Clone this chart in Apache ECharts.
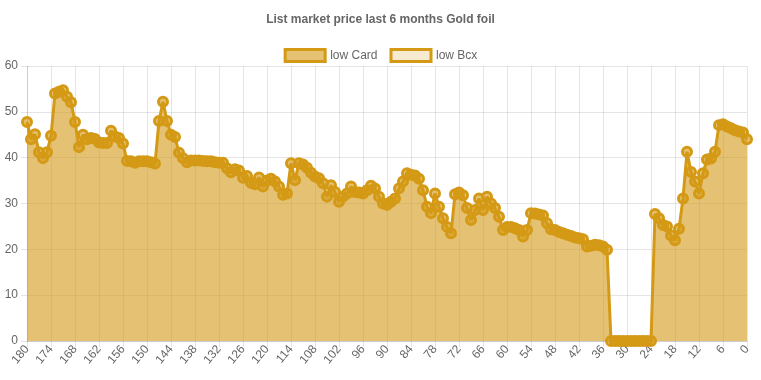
<!DOCTYPE html>
<html>
<head>
<meta charset="utf-8">
<script src="https://cdn.jsdelivr.net/npm/echarts@6/dist/echarts.min.js"></script>
<style>
html,body{margin:0;padding:0;background:#fff;}
#chart{width:761px;height:380px;}
</style>
</head>
<body>
<div id="chart"></div>
<script>
const chartTitle = 'List market price last 6 months Gold foil';
const seriesNames = ['low Card', 'low Bcx'];
const dayLabels = Array.from({length: 181}, (_, k) => String(180 - k));
const lowCard = [
  47.8, 44.0, 45.1, 41.2, 39.9, 41.2, 44.8, 54.0, 54.4, 54.7,
  53.3, 52.1, 47.8, 42.3, 45.0, 44.0, 44.3, 44.1, 43.3, 43.2,
  43.2, 45.9, 44.6, 44.3, 43.1, 39.3, 39.2, 38.9, 39.2, 39.2,
  39.2, 39.0, 38.7, 48.0, 52.2, 48.0, 45.0, 44.5, 41.1, 39.9,
  39.0, 39.4, 39.4, 39.4, 39.3, 39.2, 39.2, 39.0, 38.9, 38.9,
  37.7, 36.8, 37.5, 37.2, 35.6, 36.0, 34.5, 34.2, 35.7, 33.7,
  35.0, 35.4, 34.8, 33.7, 31.9, 32.2, 38.8, 35.1, 38.8, 38.5,
  37.8, 36.7, 35.9, 35.5, 34.4, 31.5, 34.0, 32.5, 30.4, 31.5,
  32.2, 33.7, 32.5, 32.4, 32.2, 32.9, 33.9, 33.3, 31.5, 30.0,
  29.7, 30.4, 31.1, 33.3, 34.8, 36.6, 36.3, 36.1, 35.4, 32.9,
  29.3, 27.9, 32.2, 29.3, 26.8, 24.9, 23.5, 32.0, 32.4, 31.8,
  29.0, 26.4, 28.6, 31.1, 28.6, 31.5, 30.0, 29.0, 27.1, 24.2,
  24.9, 24.9, 24.6, 24.2, 22.8, 24.2, 27.9, 27.8, 27.6, 27.4,
  25.7, 24.4, 24.2, 23.8, 23.5, 23.2, 22.9, 22.6, 22.4, 22.2,
  20.6, 20.8, 21.0, 20.9, 20.6, 19.9, 0, 0, 0, 0,
  0, 0, 0, 0, 0, 0, 0, 27.7, 26.8, 25.3,
  25.0, 23.0, 22.0, 24.5, 31.1, 41.3, 36.9, 34.8, 32.2, 36.6,
  39.6, 39.8, 41.3, 47.1, 47.3, 46.8, 46.4, 46.0, 45.7, 45.5, 44.0
];
const lowBcx = [];
const yTicks = {min: 0, max: 60, step: 10};

const gold = 'rgb(212,153,21)';
const goldArea = 'rgba(212,153,21,0.6)';
const goldLight = 'rgba(212,153,21,0.2)';
const font = 'Liberation Sans, Arial, Helvetica, sans-serif';
const grey = '#666';
const gridCol = 'rgba(0,0,0,0.1)';

const chart = echarts.init(document.getElementById('chart'), null, {renderer: 'canvas'});
chart.setOption({
  animation: false,
  backgroundColor: '#fff',
  textStyle: {fontFamily: font},
  title: {
    text: chartTitle,
    left: 'center',
    top: 9,
    textStyle: {fontFamily: font, fontSize: 12, fontWeight: 'bold', color: grey}
  },
  legend: {
    top: 43,
    left: 'center',
    itemWidth: 40,
    itemHeight: 12,
    itemGap: 12,
    icon: 'rect',
    textStyle: {fontFamily: font, fontSize: 12, color: grey},
    data: [
      {name: seriesNames[0], itemStyle: {color: goldArea, borderColor: gold, borderWidth: 3, opacity: 1}},
      {name: seriesNames[1], itemStyle: {color: goldLight, borderColor: gold, borderWidth: 3, opacity: 1}}
    ]
  },
  grid: {left: 27, right: 14, top: 66, bottom: 39, containLabel: false},
  xAxis: {
    type: 'category',
    data: dayLabels,
    boundaryGap: false,
    axisLine: {show: true, lineStyle: {color: gridCol}},
    axisTick: {show: true, interval: 5, length: 6, lineStyle: {color: gridCol}},
    splitLine: {show: true, interval: 5, lineStyle: {color: gridCol}},
    axisLabel: {interval: 5, rotate: 50, color: grey, fontSize: 12, fontFamily: font, margin: 6}
  },
  yAxis: {
    type: 'value',
    min: yTicks.min,
    max: yTicks.max,
    interval: yTicks.step,
    axisLine: {show: true, lineStyle: {color: gridCol}},
    axisTick: {show: true, length: 6, lineStyle: {color: gridCol}},
    splitLine: {show: true, lineStyle: {color: gridCol}},
    axisLabel: {color: grey, fontSize: 12, fontFamily: font, margin: 9}
  },
  series: [
    {
      name: seriesNames[0],
      type: 'line',
      data: lowCard,
      symbol: 'circle',
      symbolSize: 9,
      showAllSymbol: true,
      lineStyle: {color: gold, width: 3},
      itemStyle: {color: goldArea, borderColor: gold, borderWidth: 3},
      areaStyle: {color: goldArea, opacity: 1, origin: 'start'}
    },
    {
      name: seriesNames[1],
      type: 'line',
      data: lowBcx,
      symbol: 'circle',
      symbolSize: 9,
      lineStyle: {color: gold, width: 3},
      itemStyle: {color: goldLight, borderColor: gold, borderWidth: 3},
      areaStyle: {color: goldLight, opacity: 1}
    }
  ]
});
</script>
</body>
</html>
